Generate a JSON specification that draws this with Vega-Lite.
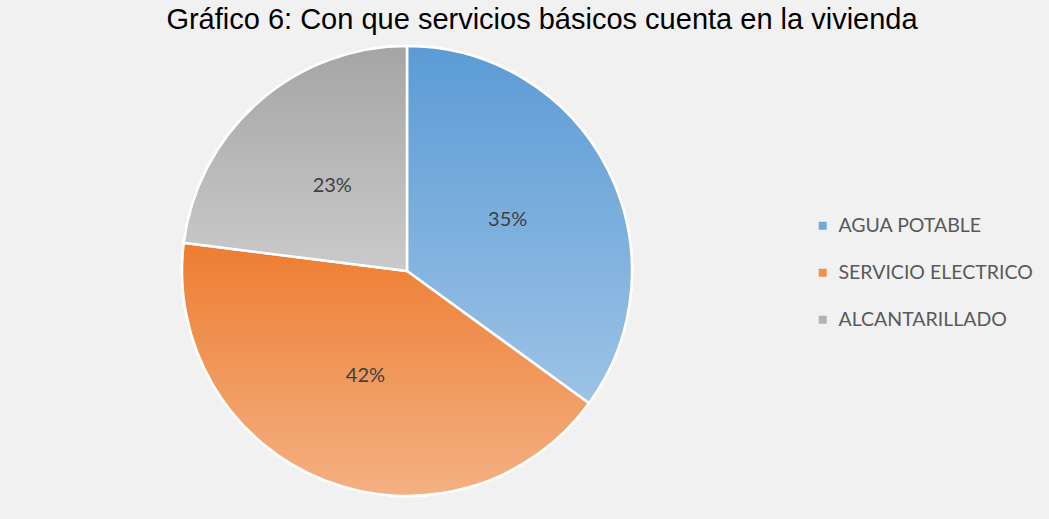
{
  "$schema": "https://vega.github.io/schema/vega-lite/v6.json",
  "autosize": {"type": "none"},
  "width": 796,
  "height": 496,
  "padding": {"left": 9, "top": 23, "right": 244, "bottom": 0},
  "background": "#f1f1f1",
  "title": {
    "text": "Gráfico 6: Con que servicios básicos cuenta en la vivienda",
    "font": "Liberation Sans",
    "fontSize": 29,
    "fontWeight": "normal",
    "color": "#000000",
    "anchor": "middle",
    "frame": "group",
    "baseline": "alphabetic",
    "offset": 4,
    "dx": 135,
    "dy": 39
  },
  "config": {
    "view": {"stroke": null},
    "font": "Lato"
  },
  "data": {
    "values": [
      {"servicio": "AGUA POTABLE", "pct": 35, "orden": 1, "label": "35%"},
      {"servicio": "SERVICIO ELECTRICO", "pct": 42, "orden": 2, "label": "42%"},
      {"servicio": "ALCANTARILLADO", "pct": 23, "orden": 3, "label": "23%"}
    ]
  },
  "encoding": {
    "theta": {"field": "pct", "type": "quantitative", "stack": true},
    "order": {"field": "orden", "type": "quantitative"}
  },
  "layer": [
    {
      "mark": {"type": "arc", "outerRadius": 225, "stroke": "#ffffff", "strokeWidth": 2.5},
      "encoding": {
        "color": {
          "field": "servicio",
          "type": "nominal",
          "sort": ["AGUA POTABLE", "SERVICIO ELECTRICO", "ALCANTARILLADO"],
          "scale": {
            "domain": ["AGUA POTABLE", "SERVICIO ELECTRICO", "ALCANTARILLADO"],
            "range": ["#6FA8DC", "#F0904F", "#B3B3B3"]
          },
          "legend": {
            "title": null,
            "orient": "none",
            "legendX": 804,
            "legendY": 193,
            "padding": 0,
            "symbolType": "square",
            "symbolSize": 64,
            "symbolStrokeWidth": 0,
            "labelFont": "Lato",
            "labelFontSize": 19.5,
            "labelColor": "#595959",
            "labelOffset": 6,
            "rowPadding": 26,
            "labelLimit": 400
          }
        }
      }
    },
    {
      "mark": {"type": "arc", "outerRadius": 225, "stroke": "#ffffff", "strokeWidth": 2.5},
      "encoding": {
        "fill": {
          "condition": [
            {"test": "datum.orden === 1", "value": {"gradient": "linear", "x1": 0, "y1": 0, "x2": 0, "y2": 1, "stops": [{"offset": 0, "color": "#5B9BD5"}, {"offset": 1, "color": "#9DC3E6"}]}},
            {"test": "datum.orden === 2", "value": {"gradient": "linear", "x1": 0, "y1": 0, "x2": 0, "y2": 1, "stops": [{"offset": 0, "color": "#ED7D31"}, {"offset": 1, "color": "#F4B183"}]}}
          ],
          "value": {"gradient": "linear", "x1": 0, "y1": 0, "x2": 0, "y2": 1, "stops": [{"offset": 0, "color": "#A5A5A5"}, {"offset": 1, "color": "#CACACA"}]}
        }
      }
    },
    {
      "mark": {"type": "text", "radius": 113, "font": "Lato", "fontSize": 20, "color": "#404040"},
      "encoding": {
        "text": {"field": "label", "type": "nominal"}
      }
    }
  ]
}
